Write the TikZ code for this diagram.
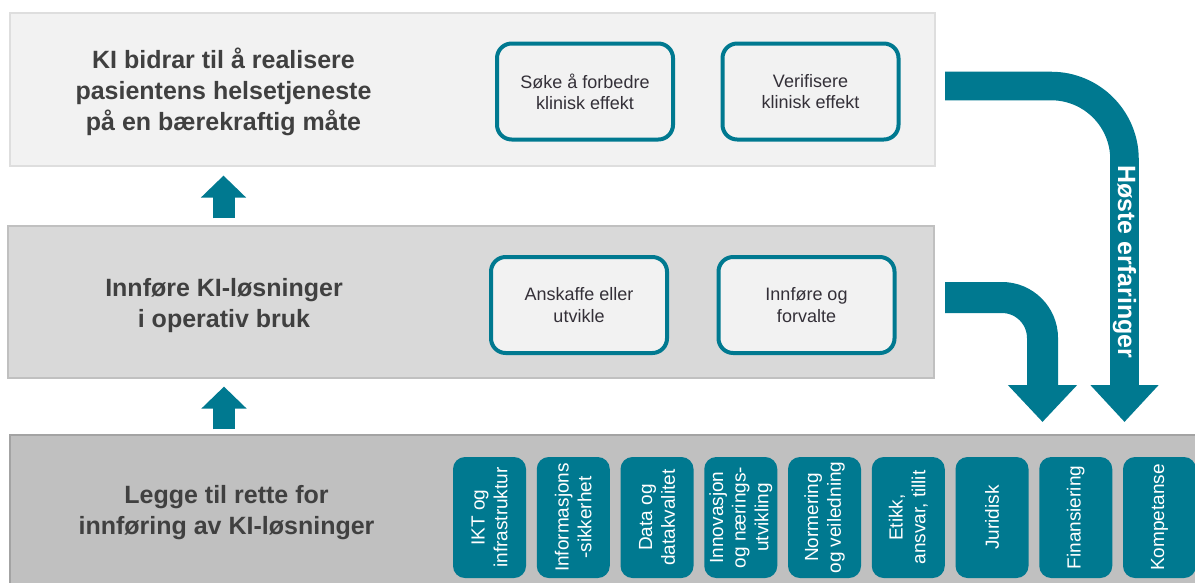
\documentclass[tikz,border=0pt]{standalone}
\usepackage{fontspec}
\setmainfont{Liberation Sans}
\usetikzlibrary{arrows.meta}

\definecolor{kiteal}{RGB}{0,121,144}
\definecolor{panelA}{RGB}{242,242,242}
\definecolor{panelB}{RGB}{217,217,217}
\definecolor{panelC}{RGB}{192,192,192}
\definecolor{headgray}{RGB}{64,64,64}
\definecolor{boxgray}{RGB}{52,48,56}

\begin{document}
\begin{tikzpicture}[x=0.75pt,y=-0.75pt,
  panel/.style={rectangle, inner sep=0pt, line width=0.9pt},
  heading/.style={align=center, text=headgray, font=\fontsize{18.75}{23.25}\selectfont\bfseries},
  stepbox/.style={rectangle, rounded corners=11pt, draw=kiteal, line width=3pt, fill=panelA,
    minimum width=132pt, minimum height=72pt, align=center, text=boxgray,
    font=\fontsize{13.5}{16}\selectfont},
  areabox/.style={rectangle, rounded corners=9pt, fill=kiteal, rotate=90, inner sep=0pt,
    minimum width=90.75pt, minimum height=54.75pt, align=center, text=white,
    font=\fontsize{14.25}{17}\selectfont},
  uparrow/.style={kiteal, line width=16.5pt, -{Triangle[length=16.5pt, width=33pt]}}
]
\clip (0,0) rectangle (1195,582);
\fill[white] (0,0) rectangle (1195,582);

\node[panel, draw=panelB!80!panelA, fill=panelA, minimum width=693.75pt, minimum height=114.75pt] (goal) at (472.5,89.5) {};
\node[panel, draw=panelC, fill=panelB, minimum width=694.5pt, minimum height=114pt] (mid) at (471,302) {};
\node[panel, draw=panelC!85!black, fill=panelC, minimum width=892.5pt, minimum height=116.25pt] (base) at (605,512.5) {};

\node[heading] (goaltxt) at (223.5,91.5) {KI bidrar til å realisere\\pasientens  helsetjeneste\\på en bærekraftig måte};
\node[heading] (midtxt) at (224,306) {Innføre KI-løsninger\\i operativ bruk};
\node[heading] (basetxt) at (226.5,513) {Legge til rette for\\innføring av KI-løsninger};

\node[stepbox] (seek) at (585,91.5) {Søke å forbedre\\klinisk effekt};
\node[stepbox] (verify) at (810.5,91.5) {Verifisere\\klinisk effekt};
\node[stepbox] (acquire) at (579,305) {Anskaffe eller\\utvikle};
\node[stepbox] (operate) at (806.5,305) {Innføre og\\forvalte};

\foreach \lbl [count=\i] in {{IKT og\\infrastruktur}, {Informasjons\\-sikkerhet}, {Data og\\datakvalitet},
    {Innovasjon\\og nærings-\\utvikling}, {Normering\\og veiledning}, {Etikk,\\ansvar, tillit},
    {Juridisk}, {Finansiering}, {Kompetanse}}
  \node[areabox] (area\i) at (489.5+83.75*\i-83.75,517.5) {\lbl};

\draw[uparrow, shorten <=5.25pt, shorten >=6.75pt] (mid.north -| goaltxt) -- (goal.south -| goaltxt);
\draw[uparrow, shorten <=3.75pt, shorten >=6pt] (base.north -| midtxt) -- (mid.south -| midtxt);

\coordinate (reap0) at (945,86);
\coordinate (reap1) at (1124.5,422);
\coordinate (use0) at (945,297.5);
\coordinate (use1) at (1042.5,422);

\draw[kiteal, line width=21.4pt, rounded corners=55pt, -{Triangle[length=27.75pt, width=49.5pt]}] (reap0) -| (reap1);
\draw[kiteal, line width=23.25pt, rounded corners=30.4pt, -{Triangle[length=27.75pt, width=50.25pt]}] (use0) -| (use1);

\node[rotate=-90, text=white, font=\fontsize{18.75}{22}\selectfont\bfseries] (reaptxt) at (1124.5,262) {Høste erfaringer};
\end{tikzpicture}
\end{document}
